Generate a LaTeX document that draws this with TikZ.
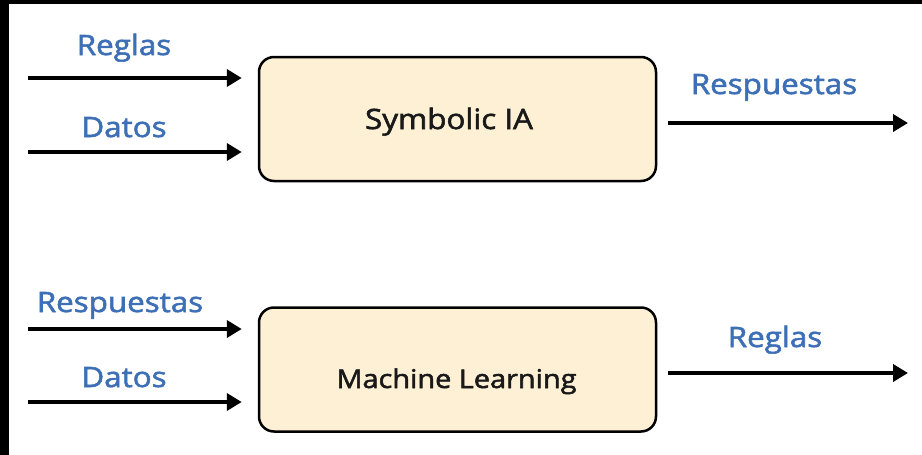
\documentclass[tikz,border=0pt]{standalone}
\usepackage{fontspec}
\setmainfont[FakeStretch=1.12,FakeBold=2]{Open Sans}
\usetikzlibrary{arrows.meta}
\definecolor{lblue}{HTML}{3D6FB6}
\definecolor{boxfill}{HTML}{FDF0D4}
\tikzset{
  procbox/.style={draw=black, line width=2.5pt, fill=boxfill, rounded corners=15pt,
    minimum width=397pt, minimum height=124pt, inner sep=0pt},
  flow/.style={line width=4pt, -{Triangle[length=15pt,width=17pt]}},
  lbl/.style={text=lblue, font=\fontsize{28}{33}\selectfont, anchor=base, inner sep=0pt},
  boxtxt/.style={text=black!90, anchor=base, inner sep=0pt},
}
\begin{document}
\begin{tikzpicture}[x=1pt,y=-1pt]
\useasboundingbox (0,0) rectangle (922,455);
\fill[white] (0,0) rectangle (922,455);
\fill[black] (0,0) rectangle (922,4);
\fill[black] (0,0) rectangle (9,455);
% boxes
\node[procbox] (b1) at (457.5,119) {};
\node[procbox] (b2) at (457.5,369.5) {};
\node[boxtxt, font=\fontsize{28}{33}\selectfont] (t1) at (449,129) {Symbolic IA};
\node[boxtxt, font=\fontsize{25.8}{31}\selectfont] (t2) at (456.5,388) {Machine Learning};
% input coordinates
\coordinate (i1) at (28,78);
\coordinate (i2) at (28,152);
\coordinate (i3) at (28,329);
\coordinate (i4) at (28,402);
\coordinate (o1) at (908,123);
\coordinate (o2) at (908,373);
% arrows
\draw[flow, shorten >=16pt] (i1) -- (i1 -| b1.west);
\draw[flow, shorten >=16pt] (i2) -- (i2 -| b1.west);
\draw[flow, shorten >=16pt] (i3) -- (i3 -| b2.west);
\draw[flow, shorten >=16pt] (i4) -- (i4 -| b2.west);
\draw[flow, shorten <=11pt] (o1 -| b1.east) -- (o1);
\draw[flow, shorten <=11pt] (o2 -| b2.east) -- (o2);
% labels
\node[lbl] (l1) at (124,55) {Reglas};
\node[lbl] (l2) at (124,137) {Datos};
\node[lbl] (l3) at (774,94) {Respuestas};
\node[lbl] (l4) at (120,312) {Respuestas};
\node[lbl] (l5) at (124,387) {Datos};
\node[lbl] (l6) at (775,347) {Reglas};
\end{tikzpicture}
\end{document}
